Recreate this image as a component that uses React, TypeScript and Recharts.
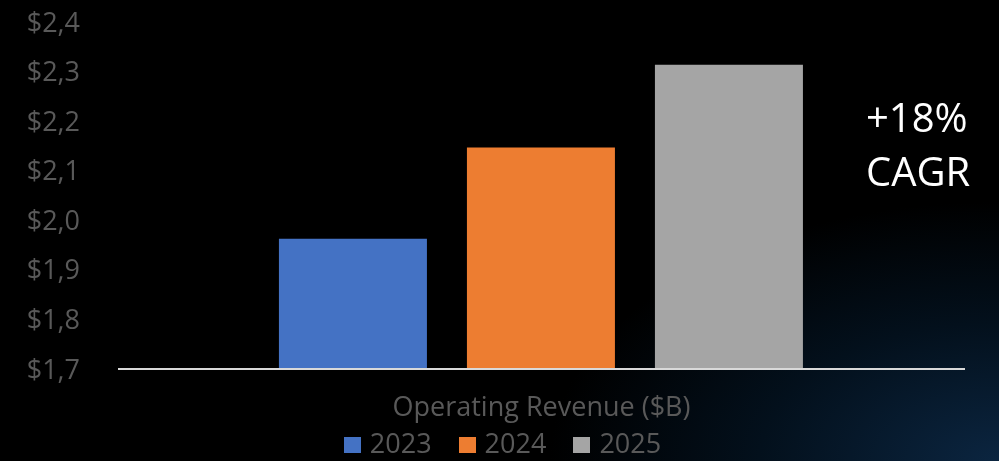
import React from 'react';
import { Bar, BarChart, Legend, XAxis, YAxis } from 'recharts';

const categories = ['Operating Revenue ($B)'];
const years = ['2023', '2024', '2025'];
const revenue = [1.963, 2.147, 2.314];
const yTicks = [1.7, 1.8, 1.9, 2.0, 2.1, 2.2, 2.3, 2.4];

const COLORS = {
  y2023: '#4472C4',
  y2024: '#ED7D31',
  y2025: '#A5A5A5',
  text: '#595959',
  axis: '#D9D9D9',
};
const seriesColors = [COLORS.y2023, COLORS.y2024, COLORS.y2025];

const FONT = '"Open Sans", sans-serif';

const data = categories.map((name) => {
  const row: Record<string, string | number> = { name };
  years.forEach((y, i) => {
    row[y] = revenue[i];
  });
  return row;
});

const fmt = (v: number) => `$${v.toFixed(1).replace('.', ',')}`;

function YearLegend() {
  return (
    <div
      style={{
        height: 34,
        display: 'flex',
        justifyContent: 'center',
        alignItems: 'flex-start',
        fontFamily: FONT,
        fontSize: 27,
        lineHeight: '30px',
        color: COLORS.text,
        gap: 27,
        paddingLeft: 40,
        paddingTop: 1,
      }}
    >
      {years.map((y, i) => (
        <span key={y} style={{ display: 'flex', alignItems: 'center', height: 30 }}>
          <span style={{ width: 17, height: 16, background: seriesColors[i], marginRight: 9, marginTop: 4 }} />
          {y}
        </span>
      ))}
    </div>
  );
}

export default function App() {
  return (
    <div
      style={{
        position: 'fixed',
        left: 0,
        top: 0,
        width: 999,
        height: 461,
        background: 'radial-gradient(ellipse 60% 75% at 100% 100%, #0b2540 0%, #03101c 40%, #000 75%)',
        overflow: 'hidden',
      }}
    >
      <BarChart
        width={999}
        height={461}
        data={data}
        margin={{ top: 22, right: 34, left: 0, bottom: 0 }}
        barCategoryGap="19%"
        barGap={40}
      >
        <YAxis
          domain={[1.7, 2.4]}
          ticks={yTicks}
          tickFormatter={fmt}
          width={118}
          axisLine={false}
          tickLine={false}
          tickSize={0}
          tickMargin={38}
          interval={0}
          tick={{ fill: COLORS.text, fontSize: 27, fontFamily: FONT }}
          allowDataOverflow
        />
        <XAxis
          dataKey="name"
          height={58}
          axisLine={{ stroke: COLORS.axis, strokeWidth: 2 }}
          tickLine={false}
          tickSize={0}
          tickMargin={28}
          tick={{ fill: COLORS.text, fontSize: 27, fontFamily: FONT }}
        />
        <Legend verticalAlign="bottom" height={34} content={<YearLegend />} />
        {years.map((y, i) => (
          <Bar key={y} dataKey={y} fill={seriesColors[i]} isAnimationActive={false} />
        ))}
      </BarChart>
      <div
        style={{
          position: 'absolute',
          left: 866,
          top: 90,
          color: '#fff',
          fontFamily: FONT,
          fontSize: 40,
          lineHeight: '54px',
        }}
      >
        +18%
        <br />
        CAGR
      </div>
    </div>
  );
}
